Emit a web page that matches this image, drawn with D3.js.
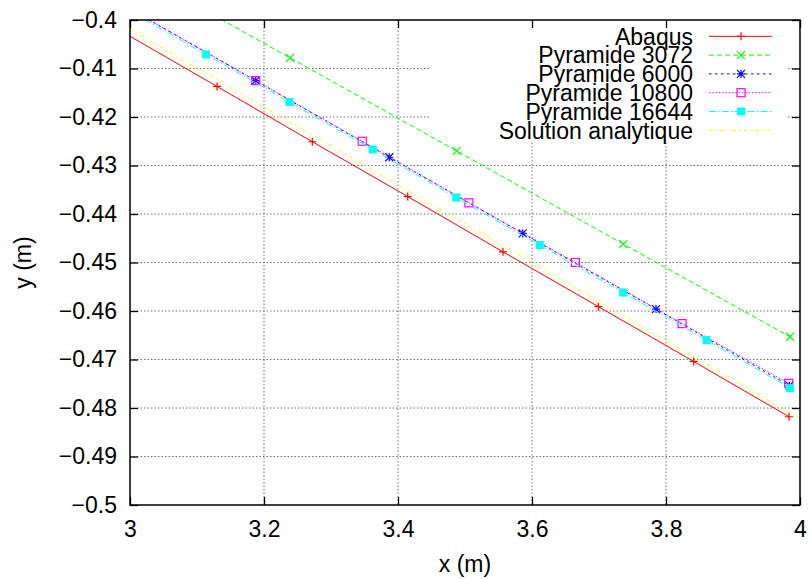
<!DOCTYPE html>
<html>
<head>
<meta charset="utf-8">
<script src="https://cdn.jsdelivr.net/npm/d3@7"></script>
<style>
  body { margin: 0; background: #fff; }
  svg text { font-family: "Liberation Sans", Arial, Helvetica, sans-serif; fill: #000; }
</style>
</head>
<body>
<svg id="chart" width="811" height="579"></svg>
<script>
// ---- data ----
const xTicks = [3, 3.2, 3.4, 3.6, 3.8, 4];
const yTicks = [-0.4, -0.41, -0.42, -0.43, -0.44, -0.45, -0.46, -0.47, -0.48, -0.49, -0.5];
const seriesNames = ["Abaqus", "Pyramide 3072", "Pyramide 6000", "Pyramide 10800", "Pyramide 16644", "Solution analytique"];

const abaqusX = [2.988, 3.1299, 3.2721, 3.4145, 3.5567, 3.6990, 3.8413, 3.9836];
const abaqusY = [-0.4024, -0.4137, -0.4251, -0.4364, -0.4478, -0.4591, -0.4704, -0.4818];

const pyr3072X = [2.990, 3.2388, 3.4876, 3.7363, 3.9851];
const pyr3072Y = [-0.3886, -0.4078, -0.4270, -0.4462, -0.4653];

const pyr6000X = [2.988, 3.1876, 3.3870, 3.5861, 3.7851, 3.9843];
const pyr6000Y = [-0.3968, -0.4125, -0.4283, -0.4440, -0.4596, -0.4754];

const pyr10800X = [2.988, 3.1876, 3.3467, 3.5058, 3.6649, 3.8240, 3.9831];
const pyr10800Y = [-0.3968, -0.4125, -0.4250, -0.4377, -0.4500, -0.4626, -0.4749];

const pyr16644X = [2.9889, 3.1134, 3.2379, 3.3624, 3.4870, 3.6115, 3.7360, 3.8606, 3.9851];
const pyr16644Y = [-0.3973, -0.4071, -0.4169, -0.4267, -0.4366, -0.4464, -0.4562, -0.4660, -0.4759];

const analytiqueX = [3.0, 4.0];
const analytiqueY = [-0.4019, -0.4821];

// ---- styles ----
const styles = [
  { color: "#ff0000", dash: null,            marker: "plus" },
  { color: "#00ff00", dash: "5,3",           marker: "cross" },
  { color: "#0000ff", dash: "2.5,3.5",       marker: "star" },
  { color: "#ff00ff", dash: "1.5,1.8",       marker: "square" },
  { color: "#00ffff", dash: "6.5,2.5,1.5,2.5", marker: "filled" },
  { color: "#ffff00", dash: "4,3,1.5,3",     marker: null }
];
const series = [
  [abaqusX, abaqusY], [pyr3072X, pyr3072Y], [pyr6000X, pyr6000Y],
  [pyr10800X, pyr10800Y], [pyr16644X, pyr16644Y], [analytiqueX, analytiqueY]
].map((p, i) => ({ name: seriesNames[i], pts: p[0].map((x, j) => ({ x, y: p[1][j] })), ...styles[i] }));

// ---- layout ----
const L = 130, R = 800, T = 20, B = 505;
const svg = d3.select("#chart");
const x = d3.scaleLinear().domain([3, 4]).range([L, R]);
const y = d3.scaleLinear().domain([-0.5, -0.4]).range([B, T]);
const fmt = d3.format("~g");
const FS = 23;

// grid
const grid = svg.append("g").attr("stroke", "#707070").attr("stroke-width", 1).attr("stroke-dasharray", "1.5,2");
grid.selectAll("line.v").data(xTicks.slice(1, -1)).join("line")
  .attr("x1", d => x(d)).attr("x2", d => x(d)).attr("y1", T).attr("y2", B);
grid.selectAll("line.h").data(yTicks.slice(1, -1)).join("line")
  .attr("x1", L).attr("x2", R).attr("y1", d => y(d)).attr("y2", d => y(d));

// key area masks the grid
svg.append("rect").attr("x", 430).attr("y", T).attr("width", 356).attr("height", 122).attr("fill", "#fff");

// axes (ticks inward, mirrored)
const tick = 8;
const axB = svg.append("g").attr("transform", `translate(0,${B})`)
  .call(d3.axisBottom(x).tickValues(xTicks).tickFormat(fmt).tickSizeInner(-tick).tickSizeOuter(0).tickPadding(16));
const axT = svg.append("g").attr("transform", `translate(0,${T})`)
  .call(d3.axisTop(x).tickValues(xTicks).tickFormat("").tickSizeInner(-tick).tickSizeOuter(0));
const axL = svg.append("g").attr("transform", `translate(${L},0)`)
  .call(d3.axisLeft(y).tickValues(yTicks).tickFormat(fmt).tickSizeInner(-tick).tickSizeOuter(0).tickPadding(13));
const axR = svg.append("g").attr("transform", `translate(${R},0)`)
  .call(d3.axisRight(y).tickValues(yTicks).tickFormat("").tickSizeInner(-tick).tickSizeOuter(0));
[axB, axT, axL, axR].forEach(a => {
  a.select(".domain").remove();
  a.selectAll("line").attr("stroke", "#000").attr("stroke-width", 1.3);
  a.selectAll("text").attr("font-size", FS).attr("font-family", "Liberation Sans, Arial, sans-serif").attr("fill", "#000");
});

// clip
svg.append("defs").append("clipPath").attr("id", "clip")
  .append("rect").attr("x", L).attr("y", T).attr("width", R - L).attr("height", B - T);

const line = d3.line().x(d => x(d.x)).y(d => y(d.y));
const plot = svg.append("g").attr("clip-path", "url(#clip)");

function drawMarker(g, type, cx, cy, color) {
  const s = 4;
  if (type === "plus") {
    g.append("path").attr("d", `M${cx - s},${cy}H${cx + s}M${cx},${cy - s}V${cy + s}`)
      .attr("stroke", color).attr("stroke-width", 1.2).attr("fill", "none");
  } else if (type === "cross") {
    g.append("path").attr("d", `M${cx - s},${cy - s}L${cx + s},${cy + s}M${cx - s},${cy + s}L${cx + s},${cy - s}`)
      .attr("stroke", color).attr("stroke-width", 1.2).attr("fill", "none");
  } else if (type === "star") {
    g.append("path").attr("d", `M${cx - s},${cy}H${cx + s}M${cx},${cy - s}V${cy + s}M${cx - s},${cy - s}L${cx + s},${cy + s}M${cx - s},${cy + s}L${cx + s},${cy - s}`)
      .attr("stroke", color).attr("stroke-width", 1.2).attr("fill", "none");
  } else if (type === "square") {
    g.append("rect").attr("x", cx - s).attr("y", cy - s).attr("width", 2 * s).attr("height", 2 * s)
      .attr("stroke", color).attr("stroke-width", 1.2).attr("fill", "none");
  } else if (type === "filled") {
    g.append("rect").attr("x", cx - s).attr("y", cy - s).attr("width", 2 * s).attr("height", 2 * s)
      .attr("fill", color);
  }
}

series.forEach(s => {
  plot.append("path").datum(s.pts).attr("d", line)
    .attr("fill", "none").attr("stroke", s.color).attr("stroke-width", 1)
    .attr("stroke-dasharray", s.dash);
  if (s.marker) {
    const mg = plot.append("g");
    s.pts.filter(p => p.x >= 3 && p.x <= 4 && p.y <= -0.4 && p.y >= -0.5)
      .forEach(p => drawMarker(mg, s.marker, x(p.x), y(p.y), s.color));
  }
});

// border
svg.append("rect").attr("x", L).attr("y", T).attr("width", R - L).attr("height", B - T)
  .attr("fill", "none").attr("stroke", "#000").attr("stroke-width", 1.5);

// legend
const key = svg.append("g");
series.forEach((s, i) => {
  const ky = 36.3 + i * 18.8;
  key.append("text").attr("x", 693).attr("y", ky).attr("dy", "0.36em")
    .attr("text-anchor", "end").attr("font-size", FS).text(s.name);
  key.append("line").attr("x1", 709).attr("x2", 772).attr("y1", ky).attr("y2", ky)
    .attr("stroke", s.color).attr("stroke-width", 1).attr("stroke-dasharray", s.dash);
  if (s.marker) drawMarker(key, s.marker, 741, ky, s.color);
});

// axis titles
svg.append("text").attr("x", (L + R) / 2).attr("y", 572).attr("text-anchor", "middle")
  .attr("font-size", FS).text("x (m)");
svg.append("text").attr("transform", `translate(31,${(T + B) / 2}) rotate(-90)`)
  .attr("text-anchor", "middle").attr("font-size", FS).text("y (m)");
</script>
</body>
</html>
